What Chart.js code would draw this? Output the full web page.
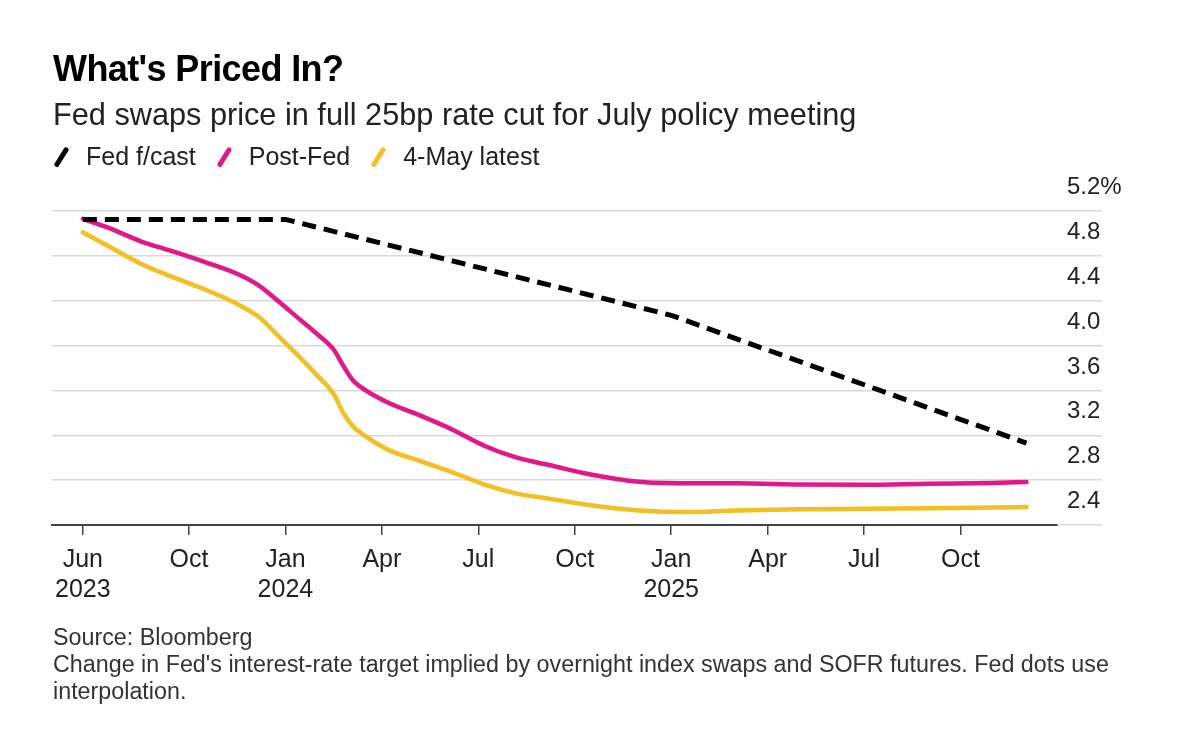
<!DOCTYPE html>
<html>
<head>
<meta charset="utf-8">
<script src="https://cdn.jsdelivr.net/npm/chart.js@4"></script>
<style>
  html, body { margin: 0; padding: 0; background: #fff; }
  body { width: 1200px; height: 747px; position: relative; overflow: hidden;
         font-family: "Liberation Sans", Arial, sans-serif; color: #222; }
  #chart { position: absolute; left: 0; top: 0; }
  .txt { position: absolute; left: 53px; white-space: nowrap; }
  #title { top: 49px; font-size: 36px; line-height: 40px; font-weight: bold; color: #000; letter-spacing: -0.6px; }
  #subtitle { top: 98px; font-size: 30.7px; line-height: 34px; }
  #legend { top: 141px; font-size: 25px; line-height: 30px; }
  #legend .item { display: inline-block; margin-right: 20px; }
  #legend .mark { display: inline-block; position: relative; width: 17px; height: 20px; margin-right: 16px; vertical-align: -2px; }
  #legend .mark i { position: absolute; left: 6px; top: -1px; width: 4.5px; height: 22px; border-radius: 2px; transform: rotate(32deg); }
  #footer { top: 624px; font-size: 23.3px; line-height: 27px; color: #333; }
</style>
</head>
<body>
<canvas id="chart" width="1200" height="747"></canvas>
<div class="txt" id="title">What's Priced In?</div>
<div class="txt" id="subtitle">Fed swaps price in full 25bp rate cut for July policy meeting</div>
<div class="txt" id="legend"></div>
<div class="txt" id="footer">Source: Bloomberg<br>Change in Fed's interest-rate target implied by overnight index swaps and SOFR futures. Fed dots use<br>interpolation.</div>
<script>
// x values are months counted from Jan 2023 (Jan 2024 = 12, Jan 2025 = 24)
const seriesNames = ["Fed f/cast", "Post-Fed", "4-May latest"];
const seriesColors = ["#000000", "#e2178a", "#f4bf22"];

const fedMonths = [5.7, 12, 24, 35.05];
const fedValues = [5.125, 5.125, 4.27, 3.13];

const curveMonths = [5.7, 6.5, 7.5, 8.5, 9.5, 10.5, 11.2, 11.8, 12.4, 13.0, 13.5, 13.8, 14.1, 14.5,
  15.2, 16.2, 17.2, 18.2, 19.2, 20.2, 21.5, 23.0, 24.5, 26.0, 28.0, 30.0, 32.0, 34.0, 35.05];
const postFed = [5.13, 5.05, 4.93, 4.84, 4.745, 4.64, 4.53, 4.39, 4.245, 4.10, 3.965, 3.82, 3.69, 3.60,
  3.49, 3.375, 3.25, 3.105, 3.00, 2.935, 2.85, 2.785, 2.772, 2.772, 2.762, 2.758, 2.768, 2.775, 2.783];
const mayLatest = [5.01, 4.885, 4.73, 4.61, 4.50, 4.37, 4.25, 4.08, 3.91, 3.73, 3.57, 3.40, 3.28, 3.19,
  3.07, 2.97, 2.87, 2.76, 2.68, 2.635, 2.576, 2.53, 2.515, 2.53, 2.54, 2.545, 2.55, 2.555, 2.56];

const xTickMonths = [5.7, 9, 12, 15, 18, 21, 24, 27, 30, 33];
const xTickLabels = [["Jun", "2023"], "Oct", ["Jan", "2024"], "Apr", "Jul", "Oct", ["Jan", "2025"], "Apr", "Jul", "Oct"];
const yTicks = [2.4, 2.8, 3.2, 3.6, 4.0, 4.4, 4.8, 5.2];
const yTickLabels = ["2.4", "2.8", "3.2", "3.6", "4.0", "4.4", "4.8", "5.2%"];

const toPoints = (xs, ys) => xs.map((x, i) => ({ x: x, y: ys[i] }));

// legend (html)
const legendEl = document.getElementById("legend");
seriesNames.forEach((name, i) => {
  const item = document.createElement("span");
  item.className = "item";
  const mark = document.createElement("span");
  mark.className = "mark";
  const bar = document.createElement("i");
  bar.style.background = seriesColors[i];
  mark.appendChild(bar);
  item.appendChild(mark);
  item.appendChild(document.createTextNode(name));
  legendEl.appendChild(item);
});

const family = '"Liberation Sans", Arial, sans-serif';

new Chart(document.getElementById("chart"), {
  type: "line",
  data: {
    datasets: [
      {
        label: seriesNames[0],
        data: toPoints(fedMonths, fedValues),
        borderColor: seriesColors[0],
        borderWidth: 5,
        borderDash: [14, 8],
        pointRadius: 0,
        tension: 0,
        order: 0,
      },
      {
        label: seriesNames[1],
        data: toPoints(curveMonths, postFed),
        borderColor: seriesColors[1],
        borderWidth: 4.5,
        borderCapStyle: "round",
        cubicInterpolationMode: "monotone",
        pointRadius: 0,
        order: 1,
      },
      {
        label: seriesNames[2],
        data: toPoints(curveMonths, mayLatest),
        borderColor: seriesColors[2],
        borderWidth: 4.5,
        borderCapStyle: "round",
        cubicInterpolationMode: "monotone",
        pointRadius: 0,
        order: 2,
      },
    ],
  },
  options: {
    responsive: false,
    animation: false,
    devicePixelRatio: 1,
    layout: { padding: { left: 52, top: 211, right: 0, bottom: 0 } },
    plugins: { legend: { display: false }, tooltip: { enabled: false } },
    scales: {
      x: {
        type: "linear",
        min: 4.74,
        max: 36,
        afterFit: (s) => { s.height = 222; },
        afterBuildTicks: (s) => { s.ticks = xTickMonths.map((v) => ({ value: v })); },
        ticks: {
          autoSkip: false,
          maxRotation: 0,
          padding: 10,
          color: "#222",
          font: { family: family, size: 25, lineHeight: 1.2 },
          callback: (v, i) => xTickLabels[i],
        },
        grid: { drawOnChartArea: false, drawTicks: true, tickLength: 10, color: "#444", lineWidth: 1.5 },
        border: { color: "#444", width: 2 },
      },
      y: {
        type: "linear",
        position: "right",
        min: 2.4,
        max: 5.2,
        afterFit: (s) => { s.width = 143; },
        afterBuildTicks: (s) => { s.ticks = yTicks.map((v) => ({ value: v })); },
        ticks: {
          padding: -35,
          crossAlign: "near",
          labelOffset: -23.5,
          color: "#222",
          font: { family: family, size: 24 },
          callback: (v, i) => yTickLabels[i],
        },
        grid: {
          drawTicks: true,
          tickLength: 45,
          lineWidth: 1.5,
          tickColor: "#d9d9d9",
          color: (ctx) => (ctx.tick && ctx.tick.value === 2.4 ? "rgba(0,0,0,0)" : "#d9d9d9"),
        },
        border: { display: false },
      },
    },
  },
});
</script>
</body>
</html>
